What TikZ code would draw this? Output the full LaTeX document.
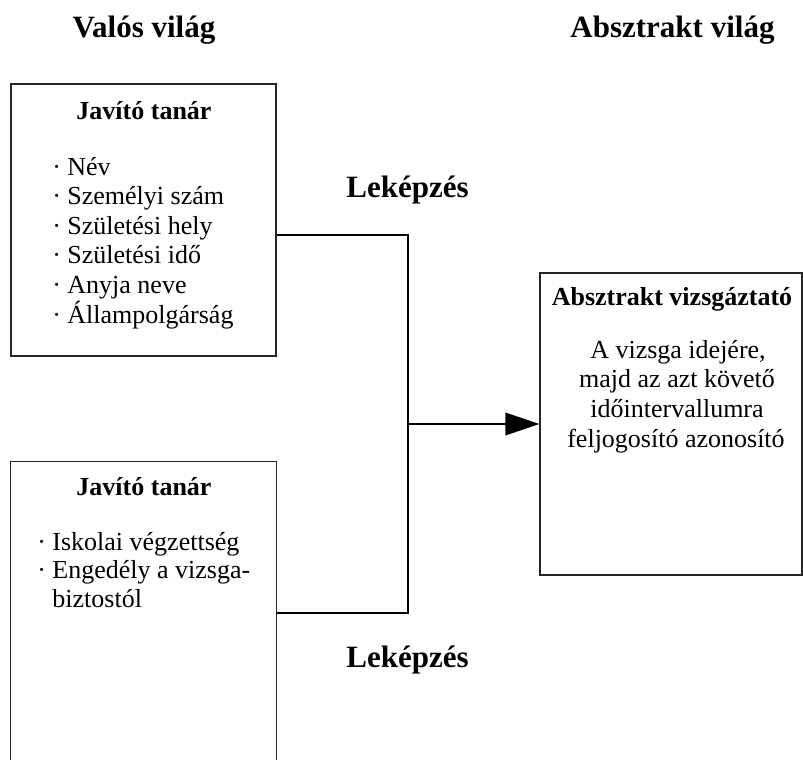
\documentclass[tikz,border=0pt]{standalone}
\usepackage{fontspec}
\setmainfont{Liberation Serif}
\usetikzlibrary{arrows.meta,fit}

\tikzset{
  heading/.style={font=\fontsize{23.25}{27}\selectfont\bfseries, anchor=base, inner sep=0pt},
  boxtitle/.style={font=\fontsize{19.5}{22}\selectfont\bfseries, anchor=base, inner sep=0pt},
  item/.style={font=\fontsize{19.5}{22}\selectfont, anchor=base west, inner sep=0pt},
  body/.style={font=\fontsize{19.5}{22}\selectfont, anchor=base, inner sep=0pt},
  frame/.style={draw=black!85, line width=0.9pt, inner sep=0pt},
  link/.style={draw=black, line width=0.9pt},
}

\begin{document}
\begin{tikzpicture}[x=0.75pt, y=-0.75pt]
  \path[use as bounding box] (0,0) rectangle (803,760);

  % column headings
  \node[heading] (hreal) at (144,37) {Valós világ};
  \node[heading] (habs) at (672.5,37) {Absztrakt világ};

  % boxes
  \node[frame, fit={(11,84) (276,356)}] (top) {};
  \path node[inner sep=0pt, fit={(11,462) (276,760)}] (bot) {};
  \draw[draw=black!85, line width=0.9pt]
    (bot.south west) -- (bot.north west) -- (bot.north east) -- (bot.south east);
  \node[frame, fit={(540,273) (802,575)}] (abs) {};

  % first teacher box
  \node[boxtitle] (t1) at (144,119) {Javító tanár};
  \foreach \txt [count=\i] in {Név, Személyi szám, Születési hely, Születési idő, Anyja neve, Állampolgárság}
    \node[item] (a\i) at (52,{175+29.6*(\i-1)}) {·\ \txt};

  % second teacher box
  \node[boxtitle] (t2) at (144,495) {Javító tanár};
  \node[item] (b1) at (37,550) {·\ Iskolai végzettség};
  \node[item] (b2) at (37,578.5) {·\ Engedély a vizsga-};
  \node[item] (b3) at (37,607) {\phantom{·\ }biztostól};

  % abstract examiner box
  \node[boxtitle] (t3) at (672,305) {Absztrakt vizsgáztató};
  \node[body] (c1) at (678,358) {A vizsga idejére,};
  \node[body] (c2) at (677,387.5) {majd az azt követő};
  \node[body] (c3) at (677,417) {időintervallumra};
  \node[body] (c4) at (676,447) {feljogosító azonosító};

  % mapping labels
  \node[heading] (m1) at (407.5,197) {Leképzés};
  \node[heading] (m2) at (407.5,667) {Leképzés};

  % bracket joining both boxes, then arrow to the abstract box
  \coordinate (j1) at (408,235);
  \coordinate (j2) at (408,613);
  \coordinate (jm) at (408,424);
  \draw[link] (top.east |- j1) -- (j1) -- (j2) -- (bot.east |- j2);
  \draw[link, -{Triangle[length=25.5pt, width=17pt]}] (jm) -- (abs.west |- jm);
\end{tikzpicture}
\end{document}
